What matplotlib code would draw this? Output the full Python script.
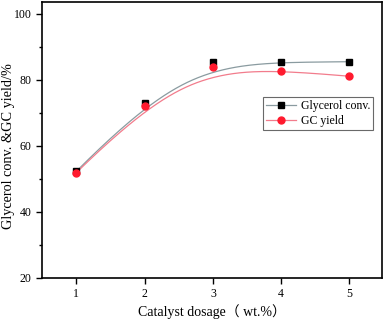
import matplotlib
matplotlib.use("Agg")
import matplotlib.pyplot as plt
import numpy as np

# catalyst dosage (wt.%)
dosage = [1, 2, 3, 4, 5]
# glycerol conversion / GC yield (%)
glycerol_conv = [52.3, 73.0, 85.3, 85.3, 85.5]
gc_yield = [51.9, 72.1, 83.9, 82.8, 81.1]


def bspline(xs, ys, n=200):
    # clamped cubic B-spline using the data points as control points (like Origin)
    pts = np.column_stack([xs, ys]).astype(float)
    k = 3
    m = len(pts)
    inner = np.linspace(0, 1, m - k + 1)
    knots = np.concatenate([[0] * k, inner, [1] * k])
    out = []
    for t in np.linspace(0, 1, n):
        if t >= 1:
            out.append(pts[-1])
            continue
        j = np.searchsorted(knots, t, side="right") - 1
        d = [pts[j - k + i].copy() for i in range(k + 1)]
        for r in range(1, k + 1):
            for i in range(k, r - 1, -1):
                a = (t - knots[j - k + i]) / (knots[j + 1 + i - r] - knots[j - k + i])
                d[i] = (1 - a) * d[i - 1] + a * d[i]
        out.append(d[k])
    out = np.array(out)
    return out[:, 0], out[:, 1]


plt.rcParams['font.family'] = ['Liberation Serif', 'Noto Sans CJK SC']

fig = plt.figure(figsize=(3.87, 3.24), dpi=100)
ax = fig.add_axes([0.109, 0.142, 0.877, 0.851])

gx, gy = bspline(dosage, glycerol_conv)
rx, ry = bspline(dosage, gc_yield)
ax.plot(gx, gy, color='#8a9ba0', lw=0.9)
ax.plot(rx, ry, color='#f27c8c', lw=0.9)
ax.plot(dosage, glycerol_conv, 's', color='black', ms=4.2)
ax.plot(dosage, gc_yield, 'o', color='#ff1a2e', ms=5)

# legend proxies
ax.plot([], [], '-s', color='#8a9ba0', mfc='black', mec='black', ms=4.2, lw=0.9, label='Glycerol conv.')
ax.plot([], [], '-o', color='#f27c8c', mfc='#ff1a2e', mec='#ff1a2e', ms=5, lw=0.9, label='GC yield')
leg = ax.legend(loc='upper left', bbox_to_anchor=(0.65, 0.655), fontsize=8.5, frameon=True,
                fancybox=False, edgecolor='#444444', handlelength=2.6, borderpad=0.25,
                labelspacing=0.25, handletextpad=0.4, borderaxespad=0)
leg.get_frame().set_linewidth(0.8)

ax.set_xlim(0.5, 5.47)
ax.set_ylim(20, 103.5)
ax.set_xticks(dosage)
ax.set_yticks([20, 40, 60, 80, 100])
ax.set_yticks([30, 50, 70, 90], minor=True)
ax.tick_params(axis='both', labelsize=8.5, direction='out', length=4, width=1)
ax.tick_params(axis='y', which='minor', length=2.5, width=1)
for s in ax.spines.values():
    s.set_linewidth(1.2)

ax.set_xlabel('Catalyst dosage（ wt.%）', fontsize=10, labelpad=3)
ax.set_ylabel('Glycerol conv. &GC yield/%', fontsize=10.3, va='center')
ax.yaxis.set_label_coords(-0.1, 0.48)

fig.savefig('out.png', dpi=100)
